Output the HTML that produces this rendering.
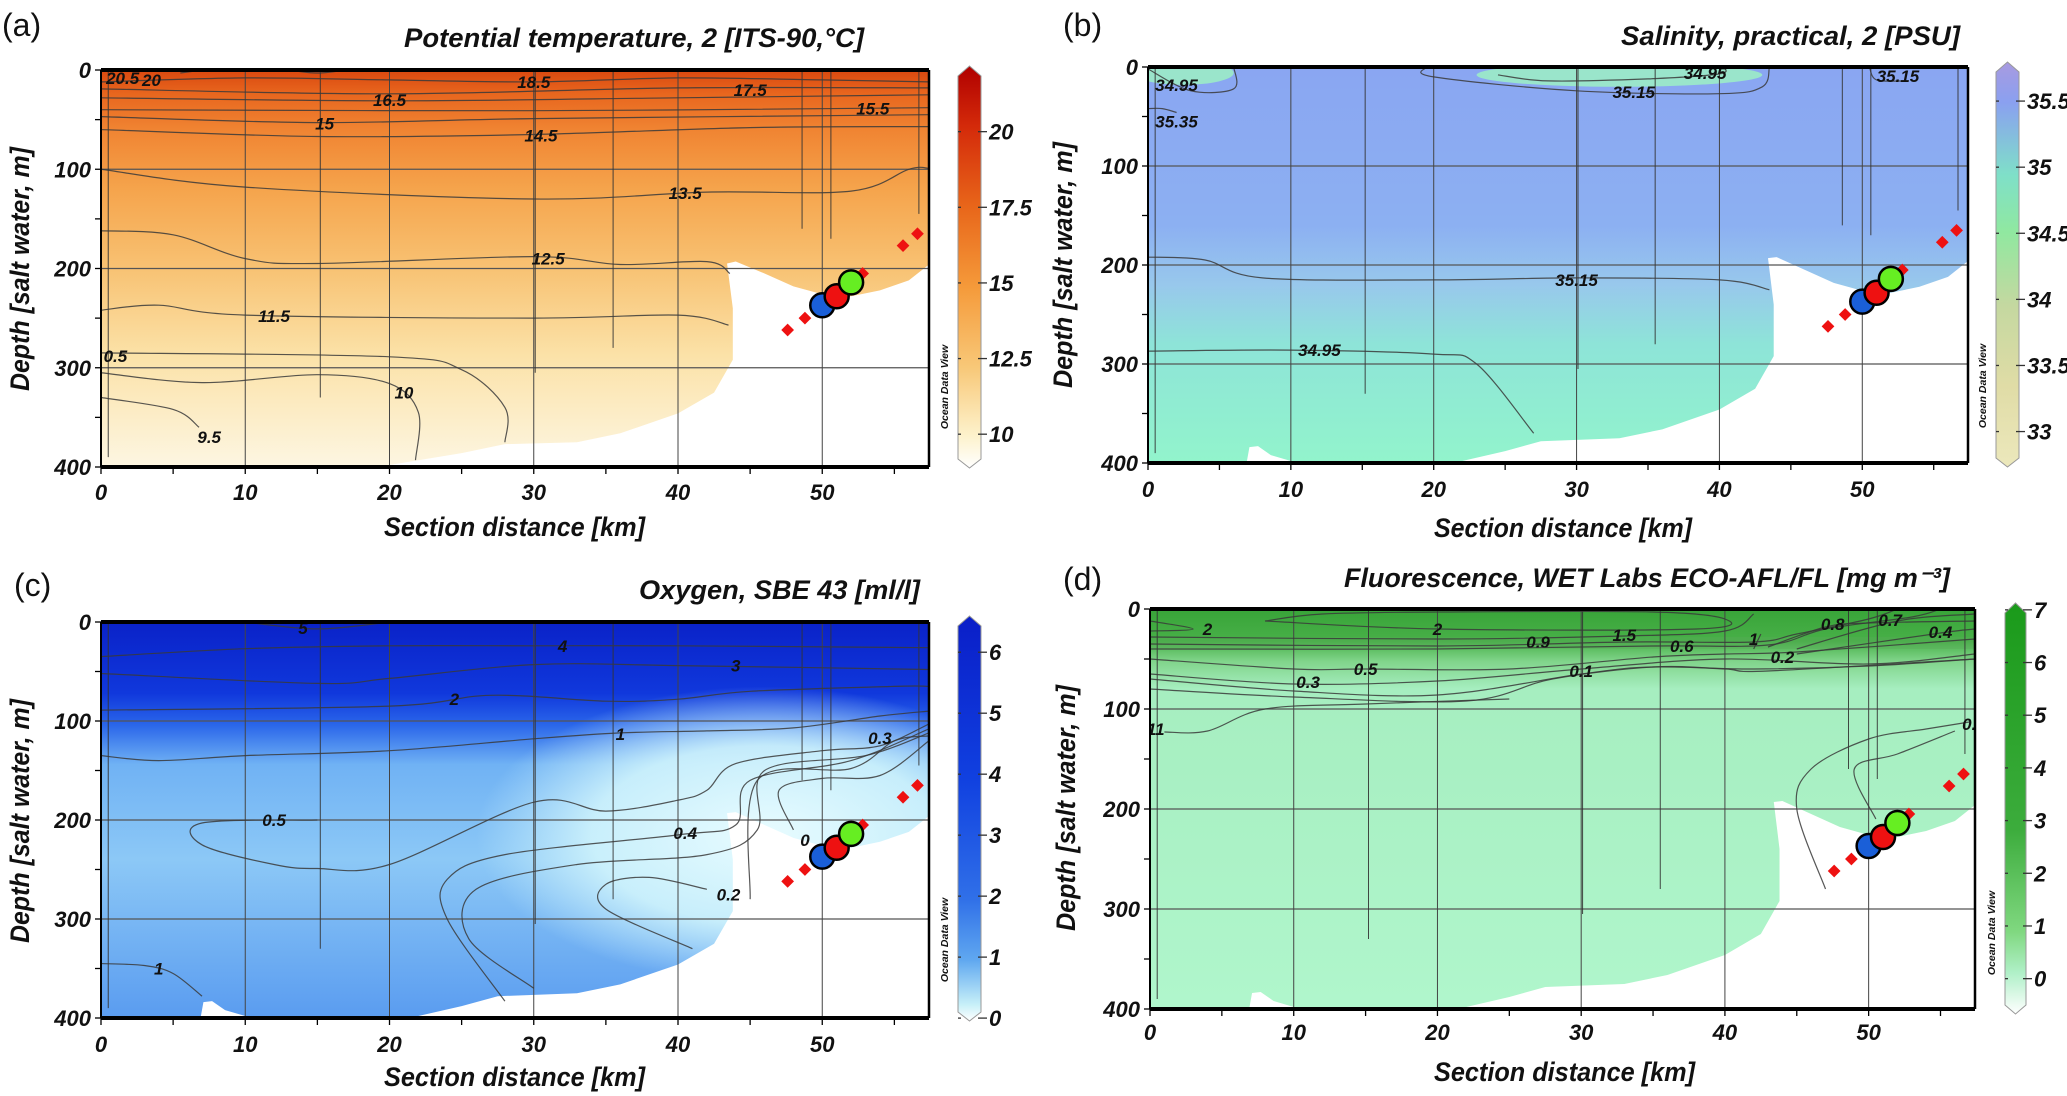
<!DOCTYPE html>
<html><head><meta charset="utf-8">
<style>
html,body{margin:0;padding:0;background:#fff;}
svg{display:block;}
text{font-family:"Liberation Sans Narrow","Liberation Sans",sans-serif;font-weight:bold;font-style:italic;fill:#111;}
.plab{font-style:normal;font-weight:normal;font-family:"Liberation Sans",sans-serif;}
</style></head>
<body>
<svg id="fig" width="2067" height="1096" viewBox="0 0 2067 1096" xmlns="http://www.w3.org/2000/svg">
<defs>
<linearGradient id="fa" x1="0" y1="0" x2="0" y2="1">
<stop offset="0" stop-color="#d9480f"/><stop offset="0.06" stop-color="#e8661e"/><stop offset="0.15" stop-color="#f08432"/><stop offset="0.3" stop-color="#f5a44c"/><stop offset="0.5" stop-color="#f8c273"/><stop offset="0.72" stop-color="#fbe2a8"/><stop offset="1" stop-color="#fdf6e2"/></linearGradient>
<linearGradient id="fb" x1="0" y1="0" x2="0" y2="1">
<stop offset="0" stop-color="#8aa6f2"/><stop offset="0.4" stop-color="#8cb0f2"/><stop offset="0.55" stop-color="#98c8ec"/><stop offset="0.7" stop-color="#8ee4d8"/><stop offset="1" stop-color="#92f4cc"/></linearGradient>
<linearGradient id="fc" x1="0" y1="0" x2="0" y2="1">
<stop offset="0" stop-color="#0a22c8"/><stop offset="0.18" stop-color="#1038dc"/><stop offset="0.26" stop-color="#2a66ea"/><stop offset="0.36" stop-color="#70b2f4"/><stop offset="0.6" stop-color="#8cc8f6"/><stop offset="1" stop-color="#5a9cf0"/></linearGradient>
<radialGradient id="fcr" cx="0.5" cy="0.5" r="0.5">
<stop offset="0" stop-color="#e8fcff"/><stop offset="0.6" stop-color="#d0f4fc" stop-opacity="0.9"/><stop offset="1" stop-color="#c8f0fc" stop-opacity="0"/></radialGradient>
<linearGradient id="fd" x1="0" y1="0" x2="0" y2="1">
<stop offset="0" stop-color="#38a438"/><stop offset="0.08" stop-color="#48b048"/><stop offset="0.13" stop-color="#80d48a"/><stop offset="0.2" stop-color="#a6eec0"/><stop offset="1" stop-color="#b0f6cc"/></linearGradient>
<linearGradient id="ca" x1="0" y1="0" x2="0" y2="1">
<stop offset="0" stop-color="#b00000"/><stop offset="0.15" stop-color="#d42a0a"/><stop offset="0.35" stop-color="#e8661a"/><stop offset="0.55" stop-color="#f59a3a"/><stop offset="0.75" stop-color="#f8c878"/><stop offset="0.92" stop-color="#fdf2cc"/><stop offset="1" stop-color="#ffffff"/></linearGradient>
<linearGradient id="cb" x1="0" y1="0" x2="0" y2="1">
<stop offset="0" stop-color="#a89ae0"/><stop offset="0.1" stop-color="#8aa0f0"/><stop offset="0.28" stop-color="#7fe0c8"/><stop offset="0.42" stop-color="#90e8a0"/><stop offset="0.6" stop-color="#c4d8a0"/><stop offset="0.8" stop-color="#e0dca6"/><stop offset="1" stop-color="#ece8bc"/></linearGradient>
<linearGradient id="cc" x1="0" y1="0" x2="0" y2="1">
<stop offset="0" stop-color="#0a1ec8"/><stop offset="0.4" stop-color="#1040e0"/><stop offset="0.7" stop-color="#3070e8"/><stop offset="0.85" stop-color="#60a8f0"/><stop offset="0.96" stop-color="#c8f0f8"/><stop offset="1" stop-color="#ffffff"/></linearGradient>
<linearGradient id="cd" x1="0" y1="0" x2="0" y2="1">
<stop offset="0" stop-color="#1a9a1a"/><stop offset="0.55" stop-color="#3cac3c"/><stop offset="0.8" stop-color="#80d880"/><stop offset="0.9" stop-color="#b0f0c8"/><stop offset="1" stop-color="#ffffff"/></linearGradient>
</defs>
</svg>
<script>
// ---------- data ----------
const xTicks=[0,10,20,30,40,50];
const yTicks=[0,100,200,300,400];
const stationKm=[0.5,15.2,30.1,35.5,48.6,50.6,56.7];
const stationBottom=[390,330,305,280,160,170,145];
const markerKm=[50,51,52];
const markerDepth=[237,228,214];
const markerColor=['#1a5fd8','#ee1111','#66ee22'];
const dashKm=[47.6,48.8,52.8,55.6,56.6];
const dashDepth=[262,250,205,177,165];
const bathyA=[[0,400],[14,400],[20,398],[25,386],[28,377],[33,375],[36,366],[40,346],[42.5,325],[43.8,292],[43.8,240],[43.4,195],[44,193],[46,205],[48,218],[50,226],[52,228],[54,222],[56,212],[57.4,196]];
const bathyB=[[0,400],[6.9,400],[7.1,384],[7.7,383],[8.6,392],[10,398],[10.6,400],[20,400],[22,398],[25,388],[27.5,378],[33,375],[36,366],[40,346],[42.5,325],[43.8,292],[43.8,240],[43.4,193],[44,192],[46,205],[48,218],[50,226],[52,228],[54,222],[56,212],[57.4,196]];
const tempCb=[10,12.5,15,17.5,20];
const salCb=[33,33.5,34,34.5,35,35.5];
const oxyCb=[0,1,2,3,4,5,6];
const fluCb=[0,1,2,3,4,5,6,7];
const tempContours=[
 {label:'18.5',at:[30,12],pts:[[0,12],[10,8],[20,10],[30,12],[40,8],[50,10],[57.4,12]]},
 {label:'17.5',at:[45,20],pts:[[0,19],[20,24],[40,18],[57.4,18]]},
 {label:'16.5',at:[20,30],pts:[[0,28],[20,31],[40,28],[57.4,25]]},
 {label:'15.5',at:[53.5,39],pts:[[0,40],[30,41],[57.4,38]]},
 {label:'15',at:[15.5,54],pts:[[0,47],[15,53],[30,49],[57.4,45]]},
 {label:'14.5',at:[30.5,66],pts:[[0,60],[15,67],[30,65],[45,58],[57.4,57]]},
 {label:'13.5',at:[40.5,124],pts:[[0,100],[10,118],[30,130],[42,123],[52,122],[56,100],[57.4,99]]},
 {label:'12.5',at:[31,190],pts:[[0,162],[5,166],[10,190],[15,195],[30,188],[36,196],[42,193],[43.6,205]]},
 {label:'11.5',at:[12,248],pts:[[0,242],[4,237],[10,247],[30,250],[40,247],[43.5,257]]},
 {label:'0.5',at:[1,288],pts:[[0,285],[20,289],[25,302],[28,340],[28,375]]},
 {label:'10',at:[21,325],pts:[[0,305],[7,315],[15,307],[20,316],[22,345],[21.8,393]]},
 {label:'9.5',at:[7.5,370],pts:[[0,330],[5,342],[6.8,360]]},
 {label:'20',at:[3.5,10],pts:[[5.5,3],[7,0]]},
 {label:'20.5',at:[1.5,8],pts:[[13,0],[15,3],[17,0]]}
];
const salContours=[
 {label:'35.15',at:[30,215],pts:[[0,192],[4,195],[8,213],[20,215],[30,213],[40,215],[43.5,225]]},
 {label:'34.95',at:[12,286],pts:[[0,287],[10,286],[20,290],[23,300],[27,370]]},
 {label:'35.15',at:[34,25],pts:[[19.5,0],[20,10],[30,24],[40,27],[43,20],[43.5,0]]},
 {label:'34.95',at:[39,6],pts:[[24.5,8],[28,14],[35,12],[40,7],[40.3,0]]},
 {label:'35.35',at:[2,55],pts:[[0,42],[1,42],[2,46]]},
 {label:'34.95',at:[2,18],pts:[[0,2],[3,24],[6,22],[6,0]]},
 {label:'35.15',at:[52.5,9],pts:[[50.5,0],[51,13],[53,14]]}
];
const oxyContours=[
 {label:'5',at:[14,6],pts:[[10,0],[15,7],[20,0]]},
 {label:'4',at:[32,24],pts:[[0,35],[10,27],[20,24],[30,24],[40,24],[57.4,26]]},
 {label:'3',at:[44,44],pts:[[0,52],[15,62],[20,57],[30,43],[40,44],[57.4,48]]},
 {label:'2',at:[24.5,78],pts:[[0,89],[20,85],[27,74],[35,80],[40,78],[45,70],[55,65],[57.4,65]]},
 {label:'1',at:[36,113],pts:[[0,135],[4,140],[10,135],[20,130],[30,118],[36,112],[42,110],[48,107],[54,95],[57.4,90]]},
 {label:'0.5',at:[12,200],pts:[[15,200],[7,203],[7,225],[12,245],[15,249],[20,245],[30,182],[35,191],[40,180],[42,170],[44,143],[50,130],[54,125],[57.4,103]]},
 {label:'0.4',at:[40.5,213],pts:[[28,383],[24,300],[24,260],[28,235],[40,215],[44,205],[45,160],[52,140],[57.4,108]]},
 {label:'0.2',at:[43.5,275],pts:[[30,370],[25.5,320],[26,270],[33,245],[42,235],[45.5,210],[46,150],[53,135],[57.4,112]]},
 {label:'',at:[0,0],pts:[[41,330],[35,290],[35,265],[38,258],[42,270]]},
 {label:'0.3',at:[54,117],pts:[[45,280],[45.5,160],[52,148],[55,120],[57.4,115]]},
 {label:'0',at:[48.8,220],pts:[[48,210],[47,170],[50,158],[54,155],[57.4,120]]},
 {label:'1',at:[4,350],pts:[[0,345],[3,347],[5,355],[7,378]]}
];
const fluContours=[
 {label:'2',at:[20,20],pts:[[8,12],[12,5],[20,3],[35,3],[40,10],[38,20],[20,20],[8,12]]},
 {label:'2',at:[4,20],pts:[[0,12],[3,20],[0,22]]},
 {label:'1.5',at:[33,26],pts:[[0,28],[20,30],[33,27],[40,22],[42,5]]},
 {label:'0.9',at:[27,33],pts:[[0,35],[20,37],[33,33],[42,33],[45,25],[50,10],[52,0]]},
 {label:'0.6',at:[37,37],pts:[[0,40],[20,40],[35,37],[43,36],[47,20],[53,8],[55,0]]},
 {label:'1',at:[42,30],pts:[[42,40],[42.5,25]]},
 {label:'0.8',at:[47.5,15],pts:[[43,38],[47,18],[50,14],[57.4,12]]},
 {label:'0.7',at:[51.5,11],pts:[[45,40],[52,12],[57.4,5]]},
 {label:'0.4',at:[55,23],pts:[[45,45],[55,24],[57.4,20]]},
 {label:'0.5',at:[15,60],pts:[[0,50],[10,60],[15,60],[25,60],[35,48],[40,45],[45,43],[57.4,30]]},
 {label:'0.3',at:[11,73],pts:[[0,65],[10,75],[20,72],[30,60],[40,50],[50,55],[57.4,45]]},
 {label:'0.2',at:[44,48],pts:[[0,70],[10,82],[20,86],[30,65],[35,58],[42,60],[50,57],[57.4,50]]},
 {label:'0.1',at:[30,62],pts:[[0,80],[10,88],[22,92],[28,70],[35,58],[40,60],[43,62],[57.4,50]]},
 {label:'11',at:[0.4,120],pts:[[1,123],[4,122],[8,100],[15,95],[25,90]]},
 {label:'0.',at:[57,115],pts:[[47,280],[45,200],[46,160],[50,130],[54,120],[57,113]]},
 {label:'',at:[0,0],pts:[[50.5,210],[49,160],[52,145],[56,122]]}
];
// ---------- layout ----------
const panels=[
 {id:'a',l:101,r:929,t:70,b:467,field:'fa',title:'Potential  temperature, 2 [ITS-90,\u00b0C]',tx:[404,864,38],xt:[384,645,527],yt:[20,147,391],lab:[2,36],xlabY:500,
  cb:{x0:958,x1:981,top:76,bot:459,vTop:21.84,vBot:9.18,g:'ca',ticks:tempCb},contours:tempContours,bathy:bathyA},
 {id:'b',l:1148,r:1968,t:67,b:463,field:'fb',title:'Salinity, practical, 2 [PSU]',tx:[1621,1960,36],xt:[1434,1692,528],yt:[1063,142,388],lab:[1063,36],xlabY:497,
  cb:{x0:1996,x1:2019,top:72,bot:458,vTop:35.72,vBot:32.8,g:'cb',ticks:salCb},contours:salContours,bathy:bathyB},
 {id:'c',l:101,r:929,t:622,b:1018,field:'fc',title:'Oxygen, SBE 43 [ml/l]',tx:[639,920,590],xt:[384,645,1077],yt:[20,699,943],lab:[14,596],xlabY:1052,
  cb:{x0:958,x1:981,top:626,bot:1012,vTop:6.43,vBot:0.1,g:'cc',ticks:oxyCb},contours:oxyContours,bathy:bathyB},
 {id:'d',l:1150,r:1975,t:609,b:1009,field:'fd',title:'Fluorescence, WET Labs ECO-AFL/FL [mg m\u207b\u00b3]',tx:[1344,1950,578],xt:[1434,1695,1072],yt:[1066,685,931],lab:[1063,590],xlabY:1040,
  cb:{x0:2005,x1:2026,top:613,bot:1005,vTop:6.94,vBot:-0.5,g:'cd',ticks:fluCb},contours:fluContours,bathy:bathyB}
];
const NS='http://www.w3.org/2000/svg';
const svg=document.getElementById('fig');
function mk(tag,attrs,parent){const e=document.createElementNS(NS,tag);for(const k in attrs)e.setAttribute(k,attrs[k]);(parent||svg).appendChild(e);return e;}
function smooth(P){if(P.length<3)return 'M'+P.map(p=>p.join(',')).join('L');let d='M'+P[0][0]+','+P[0][1];for(let i=0;i<P.length-1;i++){const p0=P[i-1]||P[i],p1=P[i],p2=P[i+1],p3=P[i+2]||P[i+1];const c1=[p1[0]+(p2[0]-p0[0])/6,p1[1]+(p2[1]-p0[1])/6],c2=[p2[0]-(p3[0]-p1[0])/6,p2[1]-(p3[1]-p1[1])/6];d+=`C${c1[0].toFixed(1)},${c1[1].toFixed(1)} ${c2[0].toFixed(1)},${c2[1].toFixed(1)} ${p2[0].toFixed(1)},${p2[1].toFixed(1)}`;}return d;}

panels.forEach(p=>{
 const sx=km=>p.l+km/57.4*(p.r-p.l);
 const sy=d=>p.t+d/400*(p.b-p.t);
 const g=mk('g',{});
 
 
 const cp=mk('clipPath',{id:'clip'+p.id},g);
 mk('rect',{x:p.l,y:p.t,width:p.r-p.l,height:p.b-p.t},cp);
 const plot=mk('g',{'clip-path':'url(#clip'+p.id+')'},g);
 const f=mk('rect',{x:p.l,y:p.t,width:p.r-p.l,height:p.b-p.t,fill:'url(#'+p.field+')'},plot);
 
 
 if(p.id==='c'){mk('ellipse',{cx:sx(46),cy:sy(215),rx:sx(20)-sx(0),ry:sy(150)-sy(0),fill:'url(#fcr)'},plot);}
 if(p.id==='b'){mk('ellipse',{cx:sx(33),cy:sy(8),rx:sx(10)-sx(0),ry:sy(12)-sy(0),fill:'#9cf0c4',opacity:0.85},plot);mk('ellipse',{cx:sx(2.5),cy:sy(6),rx:sx(3.5)-sx(0),ry:sy(12)-sy(0),fill:'#9cf0c4',opacity:0.85},plot);}
 if(p.id==='d'){mk('rect',{x:p.l,y:sy(28),width:p.r-p.l,height:sy(12)-sy(0),fill:'#5aa85a',opacity:0.35},plot);}
 // bathymetry mask
 const bp=p.bathy.map(q=>[sx(q[0]),sy(q[1])]);
 const mask=mk('polygon',{points:bp.map(q=>q.join(',')).join(' ')+` ${sx(57.4)},${sy(400)} ${sx(0)},${sy(400)}`,fill:'#fff'},plot);
 
 
 // grid
 yTicks.slice(1,4).forEach(v=>{const l=mk('line',{x1:p.l,x2:p.r,y1:sy(v),y2:sy(v),stroke:'#555','stroke-width':1.3},plot);});
 xTicks.slice(1).forEach(v=>{const l=mk('line',{x1:sx(v),x2:sx(v),y1:p.t,y2:p.b,stroke:'#444','stroke-width':1},plot);});
 stationKm.forEach((k,i)=>{const l=mk('line',{x1:sx(k),x2:sx(k),y1:sy(2),y2:sy(stationBottom[i]),stroke:'#333','stroke-width':0.9},plot);});
 // contours
 p.contours.forEach(c=>{
  const path=mk('path',{d:smooth(c.pts.map(q=>[sx(q[0]),sy(q[1])])),fill:'none',stroke:'#3a3a3a','stroke-width':1.2,opacity:0.85},plot);
  
  
  if(c.label){const t=mk('text',{x:sx(c.at[0]),y:sy(c.at[1])+6,'font-size':17,'text-anchor':'middle'},plot);t.textContent=c.label;
   
   }
 });
 // markers
 dashKm.forEach((k,i)=>{const r=mk('rect',{x:sx(k)-4.5,y:sy(dashDepth[i])-4.5,width:9,height:9,fill:'#ee1111',transform:`rotate(45 ${sx(k)} ${sy(dashDepth[i])})`},plot);});
 markerKm.forEach((k,i)=>{const c=mk('circle',{cx:sx(k),cy:sy(markerDepth[i]),r:12,fill:markerColor[i],stroke:'#000','stroke-width':2.5},plot);});
 // frame
 mk('line',{x1:p.l,x2:p.r,y1:p.t,y2:p.t,stroke:'#000','stroke-width':4},g);
 mk('line',{x1:p.l,x2:p.r,y1:p.b,y2:p.b,stroke:'#000','stroke-width':4},g);
 mk('line',{x1:p.l,x2:p.l,y1:p.t,y2:p.b,stroke:'#000','stroke-width':2},g);
 mk('line',{x1:p.r,x2:p.r,y1:p.t,y2:p.b,stroke:'#000','stroke-width':2.5},g);
 for(let k=0;k<=55;k+=5){mk('line',{x1:sx(k),x2:sx(k),y1:p.b,y2:p.b+7,stroke:'#000','stroke-width':1.3},g);}
 for(let d=0;d<=400;d+=50){mk('line',{x1:p.l-6,x2:p.l,y1:sy(d),y2:sy(d),stroke:'#000','stroke-width':1.3},g);}
 xTicks.forEach(v=>{const t=mk('text',{x:sx(v),y:p.xlabY,'font-size':22,'text-anchor':'middle'},g);t.textContent=v;});
 yTicks.forEach(v=>{const t=mk('text',{x:p.l-10,y:sy(v)+8,'font-size':22,'text-anchor':'end'},g);t.textContent=v;});
 // titles
 const ti=mk('text',{x:p.tx[0],y:p.tx[2]+9,'font-size':27,textLength:p.tx[1]-p.tx[0],lengthAdjust:'spacingAndGlyphs'},g);ti.textContent=p.title;
 
 
 const xt=mk('text',{x:p.xt[0],y:p.xt[2]+9,'font-size':27,textLength:p.xt[1]-p.xt[0],lengthAdjust:'spacingAndGlyphs'},g);xt.textContent='Section distance [km]';
 
 
 const ycx=p.yt[0],ycy=(p.yt[1]+p.yt[2])/2;
 const yt=mk('text',{x:ycx,y:ycy,'font-size':27,'text-anchor':'middle',textLength:p.yt[2]-p.yt[1],lengthAdjust:'spacingAndGlyphs',transform:`rotate(-90 ${ycx} ${ycy}) translate(0 9)`},g);yt.textContent='Depth [salt water,  m]';
 
 
 const pl=mk('text',{x:p.lab[0],y:p.lab[1],'font-size':32,class:'plab'},g);pl.textContent='('+p.id+')';
 
 
 // colorbar
 const cb=p.cb,cm=(cb.x0+cb.x1)/2;
 const cbs=v=>cb.top+(cb.vTop-v)/(cb.vTop-cb.vBot)*(cb.bot-cb.top);
 const bar=mk('path',{d:`M${cb.x0},${cb.top}L${cm},${cb.top-10}L${cb.x1},${cb.top}L${cb.x1},${cb.bot}L${cm},${cb.bot+9}L${cb.x0},${cb.bot}Z`,fill:'url(#'+cb.g+')',stroke:'#999','stroke-width':1},g);
 
 
 cb.ticks.forEach(v=>{const y=cbs(v);mk('line',{x1:cb.x0,x2:cb.x0+3,y1:y,y2:y,stroke:'#333','stroke-width':1.3},g);mk('line',{x1:cb.x1-3,x2:cb.x1+6,y1:y,y2:y,stroke:'#333','stroke-width':1.3},g);
  const t=mk('text',{x:cb.x1+8,y:y+8,'font-size':22},g);t.textContent=v;
  
  });
 const ox=cb.x0-10,oy=cb.bot-72;
 const od=mk('text',{x:ox,y:oy,'font-size':10.5,'text-anchor':'middle',transform:`rotate(-90 ${ox} ${oy})`,style:'font-family:"Liberation Sans",sans-serif'},g);od.textContent='Ocean Data View';
 
 
});
</script>
</body></html>
